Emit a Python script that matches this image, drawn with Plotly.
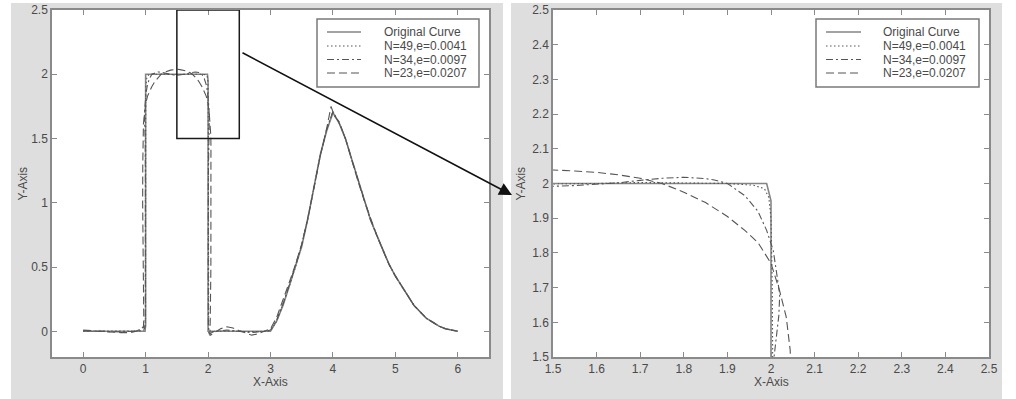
import plotly.graph_objects as go

# ---------------- data ----------------
SERIES_NAMES = ["Original Curve", "N=49,e=0.0041", "N=34,e=0.0097", "N=23,e=0.0207"]

ORIG_X = [0.0, 0.99, 1.0, 1.0, 1.99, 2.0, 2.0, 3.0,
          3.1, 3.2, 3.3, 3.4, 3.5, 3.6, 3.7, 3.8, 3.9, 4.0,
          4.1, 4.2, 4.3, 4.4, 4.5, 4.6, 4.7, 4.8, 4.9, 5.0,
          5.1, 5.2, 5.3, 5.4, 5.5, 5.6, 5.7, 5.8, 5.9, 6.0]
ORIG_Y = [0.0, 0.0, 0.05, 2.0, 2.0, 1.95, 0.0, 0.0,
          0.08, 0.2, 0.35, 0.5, 0.66, 0.88, 1.14, 1.38, 1.56, 1.7,
          1.62, 1.5, 1.34, 1.18, 1.02, 0.87, 0.75, 0.63, 0.52, 0.43,
          0.35, 0.27, 0.2, 0.15, 0.1, 0.07, 0.04, 0.02, 0.01, 0.0]

N49_X = [0.0, 0.5, 0.9, 0.97, 0.99, 0.998, 1.0, 1.002, 1.02, 1.05,
         1.1, 1.2, 1.3, 1.4, 1.5, 1.6, 1.7, 1.8, 1.9,
         1.96, 1.985, 1.995, 2.0, 2.003, 2.004, 2.004, 2.003, 2.01,
         2.1, 2.3, 2.5, 2.7, 2.9, 3.0,
         3.1, 3.2, 3.3, 3.4, 3.5, 3.6, 3.7, 3.8, 3.9, 4.0,
         4.1, 4.2, 4.3, 4.4, 4.5, 4.6, 4.7, 4.8, 4.9, 5.0,
         5.1, 5.2, 5.3, 5.4, 5.5, 5.6, 5.7, 5.8, 5.9, 6.0]
N49_Y = [0.0, 0.0, 0.003, 0.01, 0.02, 0.1, 1.0, 1.9, 1.98, 1.995,
         2.0, 2.002, 2.0, 1.998, 1.998, 2.0, 2.003, 2.002, 2.0,
         1.995, 1.985, 1.96, 1.9, 1.7, 1.5, 1.0, 0.3, -0.01,
         0.0, 0.003, 0.0, -0.003, 0.0, 0.005,
         0.08, 0.21, 0.35, 0.5, 0.67, 0.88, 1.13, 1.38, 1.57, 1.71,
         1.62, 1.5, 1.34, 1.18, 1.02, 0.87, 0.75, 0.63, 0.52, 0.43,
         0.35, 0.27, 0.2, 0.15, 0.1, 0.07, 0.04, 0.02, 0.01, 0.0]

N34_X = [0.0, 0.3, 0.6, 0.8, 0.92, 0.96, 0.985, 0.995, 0.998, 0.996,
         0.993, 0.988, 0.982, 0.98, 0.988, 0.995, 1.01, 1.03, 1.06, 1.1,
         1.15, 1.2, 1.25, 1.3, 1.35, 1.4, 1.45, 1.5, 1.55, 1.6,
         1.65, 1.7, 1.75, 1.8, 1.85, 1.87, 1.9, 1.94, 1.97, 1.99,
         2.005, 2.012, 2.02, 2.018, 2.012, 2.007, 2.004, 2.002, 2.005, 2.02,
         2.1, 2.3, 2.5, 2.7, 2.9, 3.0,
         3.1, 3.2, 3.3, 3.4, 3.5, 3.6, 3.7, 3.8, 3.9, 4.0,
         4.1, 4.2, 4.3, 4.4, 4.5, 4.6, 4.7, 4.8, 4.9, 5.0,
         5.1, 5.2, 5.3, 5.4, 5.5, 5.6, 5.7, 5.8, 5.9, 6.0]
N34_Y = [0.005, 0.0, -0.005, 0.0, 0.012, 0.03, 0.02, 0.1, 0.5, 1.2,
         1.5, 1.56, 1.62, 1.68, 1.75, 1.808, 1.865, 1.92, 1.965, 2.0,
         2.01, 2.018, 2.015, 2.009, 2.002, 1.997, 1.994, 1.992, 1.994, 1.997,
         2.002, 2.009, 2.015, 2.018, 2.014, 2.01, 2.0, 1.965, 1.92, 1.865,
         1.808, 1.75, 1.68, 1.62, 1.56, 1.5, 1.2, 0.5, 0.03, -0.02,
         0.0, 0.01, 0.0, -0.01, 0.0, 0.01,
         0.09, 0.21, 0.36, 0.51, 0.67, 0.89, 1.13, 1.37, 1.57, 1.71,
         1.62, 1.5, 1.34, 1.18, 1.02, 0.87, 0.75, 0.63, 0.52, 0.43,
         0.35, 0.27, 0.2, 0.15, 0.1, 0.07, 0.04, 0.02, 0.01, 0.0]

N23_X = [0.0, 0.2, 0.4, 0.6, 0.75, 0.85, 0.93, 0.965, 0.97, 0.96,
         0.952, 0.954, 0.956, 0.965, 0.98, 1.0, 1.01, 1.03, 1.06, 1.1,
         1.15, 1.2, 1.25, 1.3, 1.35, 1.4, 1.45, 1.5, 1.55, 1.6,
         1.65, 1.7, 1.75, 1.8, 1.85, 1.9, 1.94, 1.97, 1.99, 2.0,
         2.02, 2.035, 2.044, 2.046, 2.048, 2.045, 2.035, 2.03, 2.04, 2.1,
         2.2, 2.3, 2.4, 2.5, 2.6, 2.7, 2.8, 2.9, 3.0,
         3.1, 3.2, 3.3, 3.4, 3.5, 3.6, 3.7, 3.8, 3.9, 3.97, 4.02,
         4.1, 4.2, 4.3, 4.4, 4.5, 4.6, 4.7, 4.8, 4.9, 5.0,
         5.1, 5.2, 5.3, 5.4, 5.5, 5.6, 5.7, 5.8, 5.9, 6.0]
N23_Y = [0.01, 0.0, -0.005, -0.01, -0.01, 0.0, 0.02, 0.035, 0.1, 0.5,
         1.0, 1.3, 1.48, 1.615, 1.69, 1.77, 1.79, 1.83, 1.865, 1.905,
         1.945, 1.975, 2.0, 2.015, 2.025, 2.032, 2.036, 2.039, 2.036, 2.032,
         2.025, 2.015, 2.0, 1.975, 1.945, 1.905, 1.865, 1.83, 1.79, 1.77,
         1.69, 1.615, 1.52, 1.45, 1.0, 0.5, 0.1, -0.03, -0.03, -0.01,
         0.02, 0.035, 0.025, 0.005, -0.015, -0.03, -0.02, 0.0, 0.02,
         0.11, 0.24, 0.38, 0.52, 0.68, 0.88, 1.12, 1.37, 1.58, 1.75, 1.68,
         1.63, 1.5, 1.33, 1.17, 1.02, 0.88, 0.75, 0.63, 0.52, 0.43,
         0.35, 0.27, 0.2, 0.15, 0.1, 0.07, 0.04, 0.02, 0.01, 0.0]

LEFT_XTICKS = [0, 1, 2, 3, 4, 5, 6]
LEFT_YTICKS = [0, 0.5, 1, 1.5, 2, 2.5]
LEFT_YTICKTEXT = ["0", "0.5", "1", "1.5", "2", "2.5"]
RIGHT_TICKS = [1.5, 1.6, 1.7, 1.8, 1.9, 2.0, 2.1, 2.2, 2.3, 2.4, 2.5]
RIGHT_TICKTEXT = ["1.5", "1.6", "1.7", "1.8", "1.9", "2", "2.1", "2.2", "2.3", "2.4", "2.5"]
ZOOM_BOX = [1.5, 2.5, 1.5, 2.5]  # x0, x1, y0, y1 of the magnified window

for a, b in [(ORIG_X, ORIG_Y), (N49_X, N49_Y), (N34_X, N34_Y), (N23_X, N23_Y)]:
    assert len(a) == len(b), (len(a), len(b))

# ---------------- styling ----------------
W, H = 1016, 399
FONT = "Liberation Sans, Arial, sans-serif"
TXT = "#4a4a4a"
STYLES = [
    dict(color="#858585", width=1.6, dash="solid"),
    dict(color="#555555", width=1.1, dash="1.5px,2.5px"),
    dict(color="#555555", width=1.1, dash="7px,3px,2px,3px"),
    dict(color="#555555", width=1.1, dash="8px,4px"),
]
DATA = [(ORIG_X, ORIG_Y), (N49_X, N49_Y), (N34_X, N34_Y), (N23_X, N23_Y)]


def fx(p):
    return p / W


def fy(p):
    return 1 - p / H


fig = go.Figure()
for (xs, ys), st, name in zip(DATA, STYLES, SERIES_NAMES):
    for xa, ya in [("x", "y"), ("x2", "y2")]:
        fig.add_trace(go.Scatter(x=xs, y=ys, mode="lines", name=name, line=st,
                                 xaxis=xa, yaxis=ya, showlegend=False,
                                 hoverinfo="skip"))

axis_common = dict(showline=True, linecolor="#8a8a8a", linewidth=1.5, mirror="ticks",
                   ticks="inside", ticklen=5, tickwidth=1, tickcolor="#8a8a8a",
                   showgrid=False, zeroline=False, automargin=False,
                   tickfont=dict(family=FONT, size=12, color=TXT))

PLOT_TOP, PLOT_BOT = 10, 357
L_X0, L_X1 = 52, 489
R_X0, R_X1 = 553, 989
GREY = "#dedede"

fig.update_layout(
    width=W, height=H, autosize=False,
    margin=dict(l=0, r=0, t=0, b=0, pad=0, autoexpand=False),
    paper_bgcolor=GREY, plot_bgcolor="white",
    xaxis=dict(domain=[fx(L_X0), fx(L_X1)], range=[-0.5, 6.5], tickvals=LEFT_XTICKS,
               anchor="y", **axis_common),
    yaxis=dict(domain=[fy(PLOT_BOT), fy(PLOT_TOP)], range=[-0.2, 2.5], tickvals=LEFT_YTICKS,
               ticktext=LEFT_YTICKTEXT, anchor="x", **axis_common),
    xaxis2=dict(domain=[fx(R_X0), fx(R_X1)], range=[1.5, 2.5], tickvals=RIGHT_TICKS,
                ticktext=RIGHT_TICKTEXT, anchor="y2", **axis_common),
    yaxis2=dict(domain=[fy(PLOT_BOT), fy(PLOT_TOP)], range=[1.5, 2.5], tickvals=RIGHT_TICKS,
                ticktext=RIGHT_TICKTEXT, anchor="x2", **axis_common),
    showlegend=False,
)

shapes = []
# white strips separating the two grey figure panels
for x0, x1, y0, y1 in [(0, 11, 0, H), (503, 511, 0, H), (1002, W, 0, H), (0, W, 0, 3)]:
    shapes.append(dict(type="rect", xref="paper", yref="paper", x0=fx(x0), x1=fx(x1),
                       y0=fy(y1), y1=fy(y0), fillcolor="white", line=dict(width=0),
                       layer="below"))
# zoom window on left plot
shapes.append(dict(type="rect", xref="x", yref="y", x0=ZOOM_BOX[0], x1=ZOOM_BOX[1],
                   y0=ZOOM_BOX[2], y1=ZOOM_BOX[3], line=dict(color="#1a1a1a", width=1.5)))

annotations = []
# legends (manual, to match the compact MATLAB legend)
ROWS = [32, 46, 59.5, 73]
for bx0, bx1, sx0, sx1, tx in [(317, 479, 327, 361, 382), (816, 979, 826, 861, 881)]:
    shapes.append(dict(type="rect", xref="paper", yref="paper", x0=fx(bx0), x1=fx(bx1),
                       y0=fy(87), y1=fy(19), fillcolor="white",
                       line=dict(color="#7a7a7a", width=1.5)))
    for ry, st, name in zip(ROWS, STYLES, SERIES_NAMES):
        shapes.append(dict(type="line", xref="paper", yref="paper", x0=fx(sx0), x1=fx(sx1),
                           y0=fy(ry), y1=fy(ry),
                           line=dict(color=st["color"], width=st["width"], dash=st["dash"])))
        annotations.append(dict(xref="paper", yref="paper", x=fx(tx), y=fy(ry), text=name,
                                showarrow=False, xanchor="left", yanchor="middle",
                                font=dict(family=FONT, size=12, color=TXT)))

# axis titles
for cx in [(L_X0 + L_X1) / 2, (R_X0 + R_X1) / 2]:
    annotations.append(dict(xref="paper", yref="paper", x=fx(cx), y=fy(382), text="X-Axis",
                            showarrow=False, xanchor="center", yanchor="middle",
                            font=dict(family=FONT, size=12, color=TXT)))
for cx in [22, 520]:
    annotations.append(dict(xref="paper", yref="paper", x=fx(cx), y=fy((PLOT_TOP + PLOT_BOT) / 2),
                            text="Y-Axis", textangle=-90, showarrow=False,
                            xanchor="center", yanchor="middle",
                            font=dict(family=FONT, size=12, color=TXT)))

# arrow from zoom window to magnified panel
HEAD = (512, 195)
TAIL = (241, 52)
annotations.append(dict(xref="paper", yref="paper", x=fx(HEAD[0]), y=fy(HEAD[1]),
                        ax=TAIL[0] - HEAD[0], ay=TAIL[1] - HEAD[1], text="",
                        showarrow=True, arrowhead=2, arrowsize=1.6, arrowwidth=1.6,
                        arrowcolor="#111111", standoff=0))

fig.update_layout(shapes=shapes, annotations=annotations)
fig.write_html("out.html", config={"displayModeBar": False},
               post_script="document.body.style.margin='0';document.body.style.overflow='hidden';")
